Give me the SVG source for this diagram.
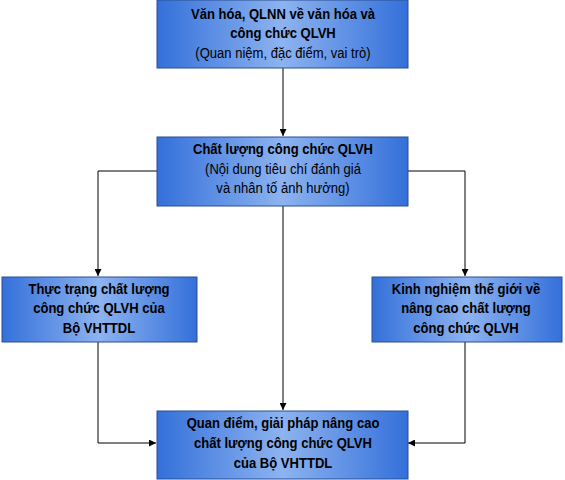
<svg xmlns="http://www.w3.org/2000/svg" width="565" height="480" viewBox="0 0 565 480">
<defs>
<linearGradient id="g" x1="0" y1="0" x2="1" y2="0">
<stop offset="0" stop-color="#3470DA"/>
<stop offset="0.5" stop-color="#8DB3F0"/>
<stop offset="1" stop-color="#3470DA"/>
</linearGradient>
<marker id="a" viewBox="0 0 10 10" refX="10" refY="5" markerWidth="7" markerHeight="7" markerUnits="userSpaceOnUse" orient="auto">
<path d="M0,0 L10,5 L0,10 z" fill="#000"/>
</marker>
<style>
.box{fill:url(#g);stroke:#2a4f8f;stroke-width:1}
.t{font-family:"Liberation Sans",Arial,sans-serif;font-size:15px;fill:#000;text-anchor:middle}
.b{font-weight:bold}
.c{fill:none;stroke:#000;stroke-width:1;marker-end:url(#a)}
</style>
</defs>
<g id="connectors">
<path class="c" d="M283,68 V136"/>
<path class="c" d="M157,171 H98 V276"/>
<path class="c" d="M408,171 H465 V276"/>
<path class="c" d="M283,206 V410"/>
<path class="c" d="M98,342 V443 H156"/>
<path class="c" d="M465,342 V443 H408"/>
</g>
<g id="n1">
<rect class="box" x="157" y="0" width="251" height="68"/>
<g transform="translate(283,0) scale(0.87,1)">
<text class="t b" x="0" y="19">Văn hóa, QLNN về văn hóa và</text>
<text class="t b" x="0" y="38">công chức QLVH</text>
<text class="t" x="0" y="58">(Quan niệm, đặc điểm, vai trò)</text>
</g>
</g>
<g id="n2">
<rect class="box" x="157" y="137" width="251" height="69"/>
<g transform="translate(283,0) scale(0.87,1)">
<text class="t b" x="0" y="154">Chất lượng công chức QLVH</text>
<text class="t" x="0" y="174">(Nội dung tiêu chí đánh giá</text>
<text class="t" x="0" y="193">và nhân tố ảnh hưởng)</text>
</g>
</g>
<g id="n3">
<rect class="box" x="2" y="277" width="195" height="65"/>
<g transform="translate(99,0) scale(0.87,1)">
<text class="t b" x="0" y="294">Thực trạng chất lượng</text>
<text class="t b" x="0" y="313">công chức QLVH của</text>
<text class="t b" x="0" y="333">Bộ VHTTDL</text>
</g>
</g>
<g id="n4">
<rect class="box" x="372" y="277" width="190" height="65"/>
<g transform="translate(466,0) scale(0.87,1)">
<text class="t b" x="0" y="294">Kinh nghiệm thế giới về</text>
<text class="t b" x="0" y="313">nâng cao chất lượng</text>
<text class="t b" x="0" y="333">công chức QLVH</text>
</g>
</g>
<g id="n5">
<rect class="box" x="157" y="411" width="251" height="68"/>
<g transform="translate(283,0) scale(0.87,1)">
<text class="t b" x="0" y="428">Quan điểm, giải pháp nâng cao</text>
<text class="t b" x="0" y="448">chất lượng công chức QLVH</text>
<text class="t b" x="0" y="468">của Bộ VHTTDL</text>
</g>
</g>
</svg>
